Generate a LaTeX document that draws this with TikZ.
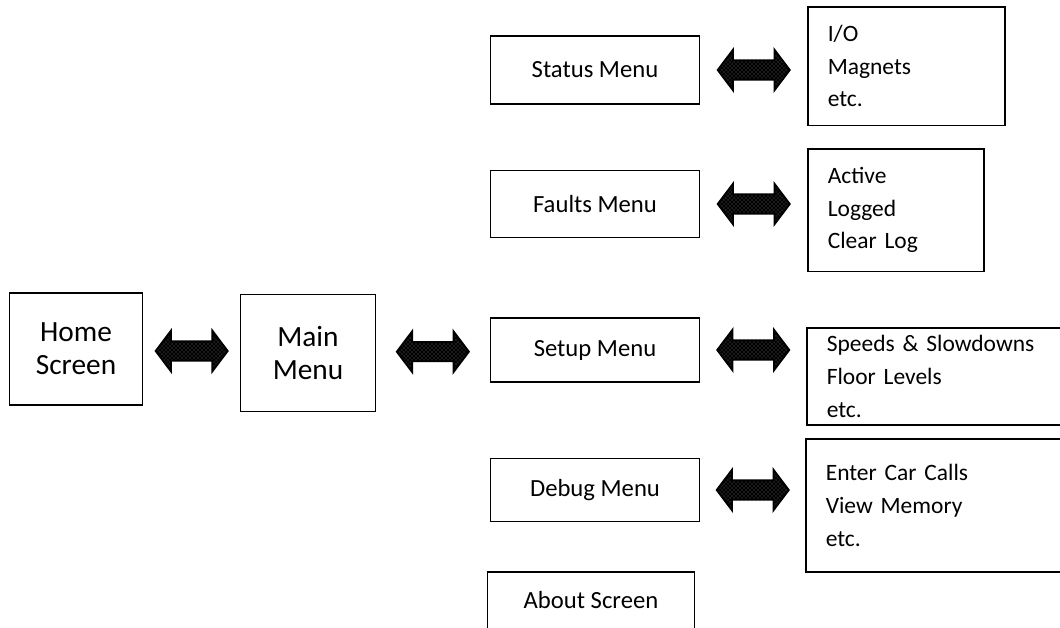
\documentclass[tikz,border=0pt]{standalone}
\usepackage{fontspec}
\setmainfont{Carlito}
\usetikzlibrary{shapes.arrows,patterns}

\tikzset{
  menubox/.style={draw, line width=1.2pt, minimum width=157pt, align=center,
    font=\fontsize{18.5}{24}\selectfont},
  bigbox/.style={menubox, font=\fontsize{22}{24.5}\selectfont},
  listbox/.style={draw, line width=1.2pt, anchor=north west, align=left,
    inner xsep=15pt, font=\fontsize{17.6}{24.5}\selectfont},
  fatarrow/.style={double arrow, draw=black, preaction={fill=black},
    pattern=crosshatch dots, pattern color=black!55, line width=1.4pt,
    inner xsep=0pt, inner ysep=6.5pt, minimum height=54pt,
    double arrow head extend=8pt, double arrow tip angle=106},
}

\begin{document}
\begin{tikzpicture}[x=0.75pt, y=-0.75pt]
    \useasboundingbox (0,0) rectangle (1060,628);

    % left column
    \node[bigbox, minimum width=100pt, minimum height=84pt] (home) at (76,349) {Home\\Screen};
    \node[bigbox, minimum width=101pt, minimum height=88pt] (main) at (308,353) {Main\\Menu};

    % middle column
    \node[menubox, minimum height=51pt] (status) at (595,70) {Status Menu};
    \node[menubox, minimum height=50pt] (faults) at (595,204) {Faults Menu};
    \node[menubox, minimum height=48pt] (setup) at (595,350) {Setup Menu};
    \node[menubox, minimum height=47pt] (debug) at (595,490) {Debug Menu};
    \node[menubox, minimum width=155pt, minimum height=60pt, anchor=north] (about) at (591,571) {};
    \node[font=\fontsize{18.5}{24}\selectfont] (abouttxt) at (591,600) {About Screen};

    % right column
    \node[listbox, minimum width=148pt, minimum height=89pt, text width=118pt] (statusl) at (807,6) {I/O\\Magnets\\etc.};
    \node[listbox, minimum width=132pt, minimum height=92pt, text width=102pt] (faultsl) at (807,148) {Active\\Logged\\Clear Log};
    \node[listbox, minimum width=205pt, minimum height=73pt, text width=175pt] (setupl) at (806,327) {Speeds \& Slowdowns\\Floor Levels\\etc.};
    \node[listbox, minimum width=205pt, minimum height=100pt, text width=175pt] (debugl) at (805,438) {Enter Car Calls\\View Memory\\etc.};

    % arrows
    \path (home) -- node[fatarrow] {} (main);
    \path (main) -- node[fatarrow] {} (setup);
    \path (status.east) -- node[fatarrow] {} (statusl.west |- status.east);
    \path (faults.east) -- node[fatarrow] {} (faultsl.west |- faults.east);
    \path (setup.east) -- node[fatarrow] {} (setupl.west |- setup.east);
    \path (debug.east) -- node[fatarrow] {} (debugl.west |- debug.east);
\end{tikzpicture}
\end{document}
